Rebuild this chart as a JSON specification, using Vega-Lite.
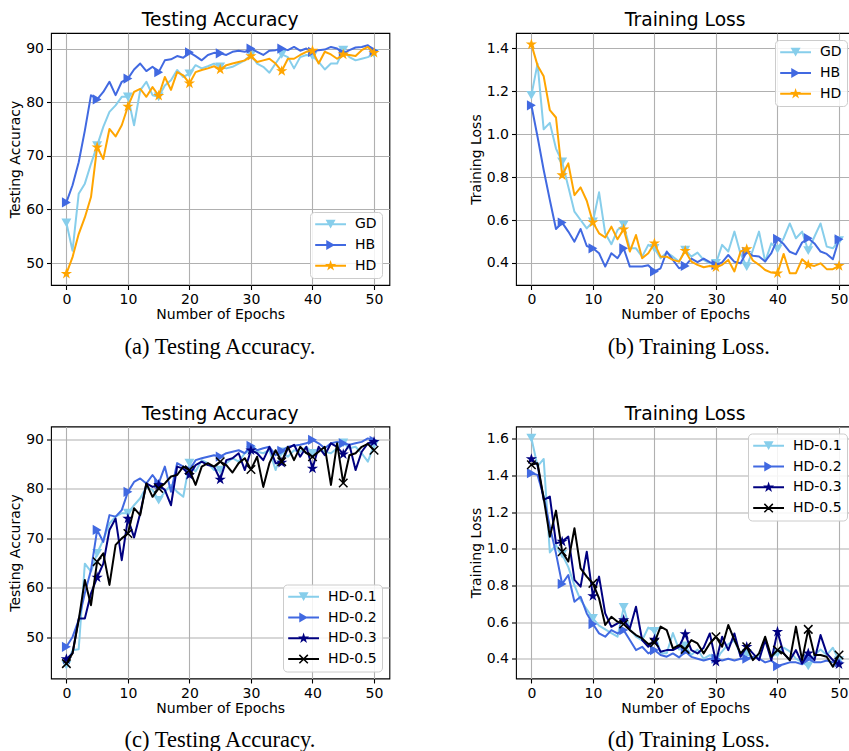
{
"$schema": "https://vega.github.io/schema/vega-lite/v6.json",
"padding": {"left": 8, "top": 10, "right": -5, "bottom": 0},
"background": "white",
"config": {
  "font": "DejaVu Sans",
  "view": {"stroke": "black", "strokeWidth": 1.1},
  "axis": {"domain": false, "grid": true, "gridColor": "#b0b0b0", "gridWidth": 1.1, "tickColor": "black", "tickWidth": 1.1, "tickSize": 4.5, "labelFont": "DejaVu Sans", "labelFontSize": 14, "labelColor": "black", "labelPadding": 3, "labelFlush": false, "labelOverlap": false, "titleFont": "DejaVu Sans", "titleFontSize": 14, "titleFontWeight": "normal", "titleColor": "black", "titlePadding": 3},
  "axisX": {"titlePadding": 1},
  "title": {"font": "DejaVu Sans", "fontSize": 18.7, "fontWeight": "normal", "color": "black", "offset": 3},
  "legend": {"labelFont": "DejaVu Sans", "labelFontSize": 14, "labelColor": "black", "symbolSize": 196, "symbolOffset": 0, "symbolStrokeWidth": 0, "fillColor": "rgba(255,255,255,0.85)", "strokeColor": "#cccccc", "cornerRadius": 4, "padding": 5.2, "rowPadding": 6.8, "labelOffset": 25.8, "offset": 7},
  "line": {"strokeWidth": 2, "strokeJoin": "round"}
},
"datasets": {
"a": [
{"s":"GD","e":0,"v":57.5},{"s":"GD","e":1,"v":52.3},{"s":"GD","e":2,"v":62.9},{"s":"GD","e":3,"v":64.8},{"s":"GD","e":4,"v":68.5},{"s":"GD","e":5,"v":71.9},{"s":"GD","e":6,"v":75.4},{"s":"GD","e":7,"v":78.2},{"s":"GD","e":8,"v":79.4},{"s":"GD","e":9,"v":81.0},
{"s":"GD","e":10,"v":81.0},{"s":"GD","e":11,"v":75.7},{"s":"GD","e":12,"v":82.2},{"s":"GD","e":13,"v":83.8},{"s":"GD","e":14,"v":81.3},{"s":"GD","e":15,"v":81.0},{"s":"GD","e":16,"v":83.1},{"s":"GD","e":17,"v":84.1},{"s":"GD","e":18,"v":86.0},{"s":"GD","e":19,"v":84.7},
{"s":"GD","e":20,"v":85.3},{"s":"GD","e":21,"v":86.9},{"s":"GD","e":22,"v":86.3},{"s":"GD","e":23,"v":86.7},{"s":"GD","e":24,"v":87.2},{"s":"GD","e":25,"v":86.6},{"s":"GD","e":26,"v":86.3},{"s":"GD","e":27,"v":86.6},{"s":"GD","e":28,"v":87.2},{"s":"GD","e":29,"v":87.8},
{"s":"GD","e":30,"v":88.8},{"s":"GD","e":31,"v":87.2},{"s":"GD","e":32,"v":86.6},{"s":"GD","e":33,"v":85.5},{"s":"GD","e":34,"v":87.2},{"s":"GD","e":35,"v":88.9},{"s":"GD","e":36,"v":88.4},{"s":"GD","e":37,"v":86.3},{"s":"GD","e":38,"v":88.4},{"s":"GD","e":39,"v":88.8},
{"s":"GD","e":40,"v":88.6},{"s":"GD","e":41,"v":87.5},{"s":"GD","e":42,"v":86.1},{"s":"GD","e":43,"v":87.2},{"s":"GD","e":44,"v":87.2},{"s":"GD","e":45,"v":89.7},{"s":"GD","e":46,"v":88.4},{"s":"GD","e":47,"v":87.8},{"s":"GD","e":48,"v":88.1},{"s":"GD","e":49,"v":88.4},{"s":"GD","e":50,"v":89.1},
{"s":"HB","e":0,"v":61.3},{"s":"HB","e":1,"v":64.5},{"s":"HB","e":2,"v":68.8},{"s":"HB","e":3,"v":74.7},{"s":"HB","e":4,"v":81.3},{"s":"HB","e":5,"v":80.5},{"s":"HB","e":6,"v":81.9},{"s":"HB","e":7,"v":83.8},{"s":"HB","e":8,"v":81.3},{"s":"HB","e":9,"v":83.8},
{"s":"HB","e":10,"v":84.4},{"s":"HB","e":11,"v":86.1},{"s":"HB","e":12,"v":87.2},{"s":"HB","e":13,"v":85.8},{"s":"HB","e":14,"v":86.6},{"s":"HB","e":15,"v":85.6},{"s":"HB","e":16,"v":87.8},{"s":"HB","e":17,"v":88.0},{"s":"HB","e":18,"v":88.6},{"s":"HB","e":19,"v":88.3},
{"s":"HB","e":20,"v":89.3},{"s":"HB","e":21,"v":88.6},{"s":"HB","e":22,"v":87.8},{"s":"HB","e":23,"v":88.8},{"s":"HB","e":24,"v":89.2},{"s":"HB","e":25,"v":89.1},{"s":"HB","e":26,"v":88.8},{"s":"HB","e":27,"v":89.4},{"s":"HB","e":28,"v":89.6},{"s":"HB","e":29,"v":89.4},
{"s":"HB","e":30,"v":90.0},{"s":"HB","e":31,"v":89.4},{"s":"HB","e":32,"v":88.8},{"s":"HB","e":33,"v":89.6},{"s":"HB","e":34,"v":89.7},{"s":"HB","e":35,"v":90.0},{"s":"HB","e":36,"v":89.7},{"s":"HB","e":37,"v":90.3},{"s":"HB","e":38,"v":89.6},{"s":"HB","e":39,"v":90.0},
{"s":"HB","e":40,"v":89.4},{"s":"HB","e":41,"v":89.7},{"s":"HB","e":42,"v":89.8},{"s":"HB","e":43,"v":90.3},{"s":"HB","e":44,"v":90.0},{"s":"HB","e":45,"v":89.1},{"s":"HB","e":46,"v":89.7},{"s":"HB","e":47,"v":90.2},{"s":"HB","e":48,"v":90.3},{"s":"HB","e":49,"v":90.6},{"s":"HB","e":50,"v":89.6},
{"s":"HD","e":0,"v":48.0},{"s":"HD","e":1,"v":51.1},{"s":"HD","e":2,"v":55.4},{"s":"HD","e":3,"v":58.5},{"s":"HD","e":4,"v":62.3},{"s":"HD","e":5,"v":71.6},{"s":"HD","e":6,"v":69.4},{"s":"HD","e":7,"v":75.0},{"s":"HD","e":8,"v":73.6},{"s":"HD","e":9,"v":75.7},
{"s":"HD","e":10,"v":79.2},{"s":"HD","e":11,"v":81.9},{"s":"HD","e":12,"v":82.5},{"s":"HD","e":13,"v":81.0},{"s":"HD","e":14,"v":82.8},{"s":"HD","e":15,"v":81.2},{"s":"HD","e":16,"v":84.7},{"s":"HD","e":17,"v":82.3},{"s":"HD","e":18,"v":85.6},{"s":"HD","e":19,"v":85.0},
{"s":"HD","e":20,"v":83.5},{"s":"HD","e":21,"v":85.6},{"s":"HD","e":22,"v":86.0},{"s":"HD","e":23,"v":86.3},{"s":"HD","e":24,"v":86.7},{"s":"HD","e":25,"v":86.1},{"s":"HD","e":26,"v":86.9},{"s":"HD","e":27,"v":87.2},{"s":"HD","e":28,"v":87.5},{"s":"HD","e":29,"v":87.8},
{"s":"HD","e":30,"v":88.6},{"s":"HD","e":31,"v":87.5},{"s":"HD","e":32,"v":87.8},{"s":"HD","e":33,"v":88.1},{"s":"HD","e":34,"v":87.2},{"s":"HD","e":35,"v":85.8},{"s":"HD","e":36,"v":88.1},{"s":"HD","e":37,"v":88.1},{"s":"HD","e":38,"v":88.8},{"s":"HD","e":39,"v":89.4},
{"s":"HD","e":40,"v":89.6},{"s":"HD","e":41,"v":87.2},{"s":"HD","e":42,"v":89.4},{"s":"HD","e":43,"v":88.9},{"s":"HD","e":44,"v":88.1},{"s":"HD","e":45,"v":88.9},{"s":"HD","e":46,"v":88.8},{"s":"HD","e":47,"v":88.6},{"s":"HD","e":48,"v":89.7},{"s":"HD","e":49,"v":90.3},{"s":"HD","e":50,"v":89.2}
],
"b": [
{"s":"GD","e":0,"v":1.181},{"s":"GD","e":1,"v":1.329},{"s":"GD","e":2,"v":1.023},{"s":"GD","e":3,"v":1.053},{"s":"GD","e":4,"v":0.933},{"s":"GD","e":5,"v":0.871},{"s":"GD","e":6,"v":0.755},{"s":"GD","e":7,"v":0.639},{"s":"GD","e":8,"v":0.600},{"s":"GD","e":9,"v":0.561},
{"s":"GD","e":10,"v":0.592},{"s":"GD","e":11,"v":0.729},{"s":"GD","e":12,"v":0.538},{"s":"GD","e":13,"v":0.487},{"s":"GD","e":14,"v":0.553},{"s":"GD","e":15,"v":0.577},{"s":"GD","e":16,"v":0.468},{"s":"GD","e":17,"v":0.468},{"s":"GD","e":18,"v":0.429},{"s":"GD","e":19,"v":0.484},
{"s":"GD","e":20,"v":0.468},{"s":"GD","e":21,"v":0.422},{"s":"GD","e":22,"v":0.448},{"s":"GD","e":23,"v":0.429},{"s":"GD","e":24,"v":0.406},{"s":"GD","e":25,"v":0.460},{"s":"GD","e":26,"v":0.429},{"s":"GD","e":27,"v":0.448},{"s":"GD","e":28,"v":0.414},{"s":"GD","e":29,"v":0.398},
{"s":"GD","e":30,"v":0.398},{"s":"GD","e":31,"v":0.484},{"s":"GD","e":32,"v":0.453},{"s":"GD","e":33,"v":0.546},{"s":"GD","e":34,"v":0.442},{"s":"GD","e":35,"v":0.383},{"s":"GD","e":36,"v":0.460},{"s":"GD","e":37,"v":0.546},{"s":"GD","e":38,"v":0.406},{"s":"GD","e":39,"v":0.491},
{"s":"GD","e":40,"v":0.464},{"s":"GD","e":41,"v":0.515},{"s":"GD","e":42,"v":0.584},{"s":"GD","e":43,"v":0.515},{"s":"GD","e":44,"v":0.546},{"s":"GD","e":45,"v":0.457},{"s":"GD","e":46,"v":0.522},{"s":"GD","e":47,"v":0.584},{"s":"GD","e":48,"v":0.476},{"s":"GD","e":49,"v":0.468},{"s":"GD","e":50,"v":0.504},
{"s":"HB","e":0,"v":1.135},{"s":"HB","e":1,"v":0.988},{"s":"HB","e":2,"v":0.833},{"s":"HB","e":3,"v":0.693},{"s":"HB","e":4,"v":0.558},{"s":"HB","e":5,"v":0.588},{"s":"HB","e":6,"v":0.546},{"s":"HB","e":7,"v":0.499},{"s":"HB","e":8,"v":0.558},{"s":"HB","e":9,"v":0.479},
{"s":"HB","e":10,"v":0.468},{"s":"HB","e":11,"v":0.445},{"s":"HB","e":12,"v":0.383},{"s":"HB","e":13,"v":0.445},{"s":"HB","e":14,"v":0.422},{"s":"HB","e":15,"v":0.468},{"s":"HB","e":16,"v":0.383},{"s":"HB","e":17,"v":0.383},{"s":"HB","e":18,"v":0.383},{"s":"HB","e":19,"v":0.389},
{"s":"HB","e":20,"v":0.360},{"s":"HB","e":21,"v":0.375},{"s":"HB","e":22,"v":0.453},{"s":"HB","e":23,"v":0.414},{"s":"HB","e":24,"v":0.375},{"s":"HB","e":25,"v":0.386},{"s":"HB","e":26,"v":0.420},{"s":"HB","e":27,"v":0.404},{"s":"HB","e":28,"v":0.420},{"s":"HB","e":29,"v":0.404},
{"s":"HB","e":30,"v":0.391},{"s":"HB","e":31,"v":0.402},{"s":"HB","e":32,"v":0.437},{"s":"HB","e":33,"v":0.405},{"s":"HB","e":34,"v":0.398},{"s":"HB","e":35,"v":0.452},{"s":"HB","e":36,"v":0.433},{"s":"HB","e":37,"v":0.430},{"s":"HB","e":38,"v":0.407},{"s":"HB","e":39,"v":0.446},
{"s":"HB","e":40,"v":0.512},{"s":"HB","e":41,"v":0.488},{"s":"HB","e":42,"v":0.452},{"s":"HB","e":43,"v":0.440},{"s":"HB","e":44,"v":0.495},{"s":"HB","e":45,"v":0.515},{"s":"HB","e":46,"v":0.491},{"s":"HB","e":47,"v":0.453},{"s":"HB","e":48,"v":0.442},{"s":"HB","e":49,"v":0.417},{"s":"HB","e":50,"v":0.510},
{"s":"HD","e":0,"v":1.419},{"s":"HD","e":1,"v":1.321},{"s":"HD","e":2,"v":1.270},{"s":"HD","e":3,"v":1.112},{"s":"HD","e":4,"v":1.078},{"s":"HD","e":5,"v":0.809},{"s":"HD","e":6,"v":0.864},{"s":"HD","e":7,"v":0.716},{"s":"HD","e":8,"v":0.752},{"s":"HD","e":9,"v":0.690},
{"s":"HD","e":10,"v":0.589},{"s":"HD","e":11,"v":0.538},{"s":"HD","e":12,"v":0.519},{"s":"HD","e":13,"v":0.569},{"s":"HD","e":14,"v":0.510},{"s":"HD","e":15,"v":0.557},{"s":"HD","e":16,"v":0.453},{"s":"HD","e":17,"v":0.530},{"s":"HD","e":18,"v":0.422},{"s":"HD","e":19,"v":0.445},
{"s":"HD","e":20,"v":0.491},{"s":"HD","e":21,"v":0.429},{"s":"HD","e":22,"v":0.429},{"s":"HD","e":23,"v":0.414},{"s":"HD","e":24,"v":0.406},{"s":"HD","e":25,"v":0.456},{"s":"HD","e":26,"v":0.406},{"s":"HD","e":27,"v":0.391},{"s":"HD","e":28,"v":0.380},{"s":"HD","e":29,"v":0.386},
{"s":"HD","e":30,"v":0.380},{"s":"HD","e":31,"v":0.391},{"s":"HD","e":32,"v":0.414},{"s":"HD","e":33,"v":0.360},{"s":"HD","e":34,"v":0.453},{"s":"HD","e":35,"v":0.464},{"s":"HD","e":36,"v":0.411},{"s":"HD","e":37,"v":0.391},{"s":"HD","e":38,"v":0.367},{"s":"HD","e":39,"v":0.355},
{"s":"HD","e":40,"v":0.352},{"s":"HD","e":41,"v":0.442},{"s":"HD","e":42,"v":0.352},{"s":"HD","e":43,"v":0.352},{"s":"HD","e":44,"v":0.417},{"s":"HD","e":45,"v":0.391},{"s":"HD","e":46,"v":0.386},{"s":"HD","e":47,"v":0.398},{"s":"HD","e":48,"v":0.371},{"s":"HD","e":49,"v":0.371},{"s":"HD","e":50,"v":0.386}
],
"c": [
{"s":"HD-0.1","e":0,"v":44.4},{"s":"HD-0.1","e":1,"v":47.4},{"s":"HD-0.1","e":2,"v":47.6},{"s":"HD-0.1","e":3,"v":64.9},{"s":"HD-0.1","e":4,"v":63.3},{"s":"HD-0.1","e":5,"v":67.0},{"s":"HD-0.1","e":6,"v":69.7},{"s":"HD-0.1","e":7,"v":73.0},{"s":"HD-0.1","e":8,"v":74.4},{"s":"HD-0.1","e":9,"v":75.1},
{"s":"HD-0.1","e":10,"v":75.1},{"s":"HD-0.1","e":11,"v":76.7},{"s":"HD-0.1","e":12,"v":78.1},{"s":"HD-0.1","e":13,"v":80.4},{"s":"HD-0.1","e":14,"v":79.8},{"s":"HD-0.1","e":15,"v":77.7},{"s":"HD-0.1","e":16,"v":79.4},{"s":"HD-0.1","e":17,"v":80.8},{"s":"HD-0.1","e":18,"v":79.4},{"s":"HD-0.1","e":19,"v":78.4},
{"s":"HD-0.1","e":20,"v":85.2},{"s":"HD-0.1","e":21,"v":83.5},{"s":"HD-0.1","e":22,"v":85.8},{"s":"HD-0.1","e":23,"v":85.2},{"s":"HD-0.1","e":24,"v":83.8},{"s":"HD-0.1","e":25,"v":83.8},{"s":"HD-0.1","e":26,"v":85.2},{"s":"HD-0.1","e":27,"v":86.2},{"s":"HD-0.1","e":28,"v":85.5},{"s":"HD-0.1","e":29,"v":87.2},
{"s":"HD-0.1","e":30,"v":87.8},{"s":"HD-0.1","e":31,"v":87.5},{"s":"HD-0.1","e":32,"v":87.2},{"s":"HD-0.1","e":33,"v":87.8},{"s":"HD-0.1","e":34,"v":83.8},{"s":"HD-0.1","e":35,"v":87.5},{"s":"HD-0.1","e":36,"v":86.5},{"s":"HD-0.1","e":37,"v":87.8},{"s":"HD-0.1","e":38,"v":87.5},{"s":"HD-0.1","e":39,"v":88.5},
{"s":"HD-0.1","e":40,"v":87.2},{"s":"HD-0.1","e":41,"v":88.2},{"s":"HD-0.1","e":42,"v":87.5},{"s":"HD-0.1","e":43,"v":87.2},{"s":"HD-0.1","e":44,"v":88.2},{"s":"HD-0.1","e":45,"v":89.3},{"s":"HD-0.1","e":46,"v":88.2},{"s":"HD-0.1","e":47,"v":88.5},{"s":"HD-0.1","e":48,"v":87.2},{"s":"HD-0.1","e":49,"v":85.5},{"s":"HD-0.1","e":50,"v":88.9},
{"s":"HD-0.2","e":0,"v":48.1},{"s":"HD-0.2","e":1,"v":50.1},{"s":"HD-0.2","e":2,"v":53.5},{"s":"HD-0.2","e":3,"v":58.9},{"s":"HD-0.2","e":4,"v":63.6},{"s":"HD-0.2","e":5,"v":71.7},{"s":"HD-0.2","e":6,"v":69.3},{"s":"HD-0.2","e":7,"v":74.7},{"s":"HD-0.2","e":8,"v":74.4},{"s":"HD-0.2","e":9,"v":75.7},
{"s":"HD-0.2","e":10,"v":79.4},{"s":"HD-0.2","e":11,"v":81.4},{"s":"HD-0.2","e":12,"v":82.1},{"s":"HD-0.2","e":13,"v":81.1},{"s":"HD-0.2","e":14,"v":82.8},{"s":"HD-0.2","e":15,"v":81.1},{"s":"HD-0.2","e":16,"v":84.5},{"s":"HD-0.2","e":17,"v":79.4},{"s":"HD-0.2","e":18,"v":85.2},{"s":"HD-0.2","e":19,"v":84.5},
{"s":"HD-0.2","e":20,"v":83.8},{"s":"HD-0.2","e":21,"v":85.8},{"s":"HD-0.2","e":22,"v":86.2},{"s":"HD-0.2","e":23,"v":86.5},{"s":"HD-0.2","e":24,"v":86.8},{"s":"HD-0.2","e":25,"v":86.5},{"s":"HD-0.2","e":26,"v":87.2},{"s":"HD-0.2","e":27,"v":87.5},{"s":"HD-0.2","e":28,"v":87.8},{"s":"HD-0.2","e":29,"v":87.2},
{"s":"HD-0.2","e":30,"v":88.7},{"s":"HD-0.2","e":31,"v":87.8},{"s":"HD-0.2","e":32,"v":88.2},{"s":"HD-0.2","e":33,"v":88.5},{"s":"HD-0.2","e":34,"v":86.8},{"s":"HD-0.2","e":35,"v":87.7},{"s":"HD-0.2","e":36,"v":88.5},{"s":"HD-0.2","e":37,"v":88.7},{"s":"HD-0.2","e":38,"v":88.9},{"s":"HD-0.2","e":39,"v":89.2},
{"s":"HD-0.2","e":40,"v":89.9},{"s":"HD-0.2","e":41,"v":89.2},{"s":"HD-0.2","e":42,"v":88.2},{"s":"HD-0.2","e":43,"v":89.2},{"s":"HD-0.2","e":44,"v":89.5},{"s":"HD-0.2","e":45,"v":89.2},{"s":"HD-0.2","e":46,"v":88.9},{"s":"HD-0.2","e":47,"v":89.2},{"s":"HD-0.2","e":48,"v":89.5},{"s":"HD-0.2","e":49,"v":90.2},{"s":"HD-0.2","e":50,"v":89.7},
{"s":"HD-0.3","e":0,"v":45.6},{"s":"HD-0.3","e":1,"v":46.8},{"s":"HD-0.3","e":2,"v":53.8},{"s":"HD-0.3","e":3,"v":53.8},{"s":"HD-0.3","e":4,"v":58.9},{"s":"HD-0.3","e":5,"v":62.1},{"s":"HD-0.3","e":6,"v":64.9},{"s":"HD-0.3","e":7,"v":71.7},{"s":"HD-0.3","e":8,"v":74.0},{"s":"HD-0.3","e":9,"v":65.6},
{"s":"HD-0.3","e":10,"v":74.0},{"s":"HD-0.3","e":11,"v":70.2},{"s":"HD-0.3","e":12,"v":75.1},{"s":"HD-0.3","e":13,"v":81.1},{"s":"HD-0.3","e":14,"v":80.4},{"s":"HD-0.3","e":15,"v":80.8},{"s":"HD-0.3","e":16,"v":79.8},{"s":"HD-0.3","e":17,"v":76.7},{"s":"HD-0.3","e":18,"v":84.5},{"s":"HD-0.3","e":19,"v":84.1},
{"s":"HD-0.3","e":20,"v":82.8},{"s":"HD-0.3","e":21,"v":84.8},{"s":"HD-0.3","e":22,"v":85.5},{"s":"HD-0.3","e":23,"v":84.8},{"s":"HD-0.3","e":24,"v":84.5},{"s":"HD-0.3","e":25,"v":81.9},{"s":"HD-0.3","e":26,"v":85.8},{"s":"HD-0.3","e":27,"v":86.2},{"s":"HD-0.3","e":28,"v":87.2},{"s":"HD-0.3","e":29,"v":83.8},
{"s":"HD-0.3","e":30,"v":87.8},{"s":"HD-0.3","e":31,"v":87.2},{"s":"HD-0.3","e":32,"v":85.8},{"s":"HD-0.3","e":33,"v":88.5},{"s":"HD-0.3","e":34,"v":85.2},{"s":"HD-0.3","e":35,"v":85.3},{"s":"HD-0.3","e":36,"v":88.2},{"s":"HD-0.3","e":37,"v":88.9},{"s":"HD-0.3","e":38,"v":86.5},{"s":"HD-0.3","e":39,"v":88.5},
{"s":"HD-0.3","e":40,"v":84.1},{"s":"HD-0.3","e":41,"v":88.5},{"s":"HD-0.3","e":42,"v":86.8},{"s":"HD-0.3","e":43,"v":89.2},{"s":"HD-0.3","e":44,"v":88.5},{"s":"HD-0.3","e":45,"v":87.0},{"s":"HD-0.3","e":46,"v":88.9},{"s":"HD-0.3","e":47,"v":83.8},{"s":"HD-0.3","e":48,"v":87.5},{"s":"HD-0.3","e":49,"v":89.2},{"s":"HD-0.3","e":50,"v":89.5},
{"s":"HD-0.5","e":0,"v":44.7},{"s":"HD-0.5","e":1,"v":46.8},{"s":"HD-0.5","e":2,"v":53.5},{"s":"HD-0.5","e":3,"v":61.6},{"s":"HD-0.5","e":4,"v":56.5},{"s":"HD-0.5","e":5,"v":65.3},{"s":"HD-0.5","e":6,"v":67.0},{"s":"HD-0.5","e":7,"v":60.6},{"s":"HD-0.5","e":8,"v":68.7},{"s":"HD-0.5","e":9,"v":70.0},
{"s":"HD-0.5","e":10,"v":71.0},{"s":"HD-0.5","e":11,"v":76.1},{"s":"HD-0.5","e":12,"v":74.7},{"s":"HD-0.5","e":13,"v":81.1},{"s":"HD-0.5","e":14,"v":78.4},{"s":"HD-0.5","e":15,"v":80.1},{"s":"HD-0.5","e":16,"v":81.1},{"s":"HD-0.5","e":17,"v":82.5},{"s":"HD-0.5","e":18,"v":82.8},{"s":"HD-0.5","e":19,"v":84.5},
{"s":"HD-0.5","e":20,"v":83.8},{"s":"HD-0.5","e":21,"v":80.8},{"s":"HD-0.5","e":22,"v":84.5},{"s":"HD-0.5","e":23,"v":85.2},{"s":"HD-0.5","e":24,"v":84.5},{"s":"HD-0.5","e":25,"v":85.5},{"s":"HD-0.5","e":26,"v":84.8},{"s":"HD-0.5","e":27,"v":83.3},{"s":"HD-0.5","e":28,"v":85.2},{"s":"HD-0.5","e":29,"v":86.2},
{"s":"HD-0.5","e":30,"v":83.9},{"s":"HD-0.5","e":31,"v":86.5},{"s":"HD-0.5","e":32,"v":80.4},{"s":"HD-0.5","e":33,"v":85.2},{"s":"HD-0.5","e":34,"v":87.8},{"s":"HD-0.5","e":35,"v":85.5},{"s":"HD-0.5","e":36,"v":88.5},{"s":"HD-0.5","e":37,"v":85.8},{"s":"HD-0.5","e":38,"v":88.5},{"s":"HD-0.5","e":39,"v":87.2},
{"s":"HD-0.5","e":40,"v":86.5},{"s":"HD-0.5","e":41,"v":87.5},{"s":"HD-0.5","e":42,"v":88.5},{"s":"HD-0.5","e":43,"v":80.8},{"s":"HD-0.5","e":44,"v":89.2},{"s":"HD-0.5","e":45,"v":81.2},{"s":"HD-0.5","e":46,"v":86.8},{"s":"HD-0.5","e":47,"v":87.2},{"s":"HD-0.5","e":48,"v":88.5},{"s":"HD-0.5","e":49,"v":89.1},{"s":"HD-0.5","e":50,"v":87.8}
],
"d": [
{"s":"HD-0.1","e":0,"v":1.604},{"s":"HD-0.1","e":1,"v":1.45},{"s":"HD-0.1","e":2,"v":1.49},{"s":"HD-0.1","e":3,"v":0.98},{"s":"HD-0.1","e":4,"v":1.02},{"s":"HD-0.1","e":5,"v":0.97},{"s":"HD-0.1","e":6,"v":0.90},{"s":"HD-0.1","e":7,"v":0.80},{"s":"HD-0.1","e":8,"v":0.72},{"s":"HD-0.1","e":9,"v":0.67},
{"s":"HD-0.1","e":10,"v":0.62},{"s":"HD-0.1","e":11,"v":0.58},{"s":"HD-0.1","e":12,"v":0.56},{"s":"HD-0.1","e":13,"v":0.54},{"s":"HD-0.1","e":14,"v":0.52},{"s":"HD-0.1","e":15,"v":0.68},{"s":"HD-0.1","e":16,"v":0.56},{"s":"HD-0.1","e":17,"v":0.52},{"s":"HD-0.1","e":18,"v":0.50},{"s":"HD-0.1","e":19,"v":0.57},
{"s":"HD-0.1","e":20,"v":0.55},{"s":"HD-0.1","e":21,"v":0.43},{"s":"HD-0.1","e":22,"v":0.43},{"s":"HD-0.1","e":23,"v":0.54},{"s":"HD-0.1","e":24,"v":0.45},{"s":"HD-0.1","e":25,"v":0.47},{"s":"HD-0.1","e":26,"v":0.42},{"s":"HD-0.1","e":27,"v":0.45},{"s":"HD-0.1","e":28,"v":0.40},{"s":"HD-0.1","e":29,"v":0.42},
{"s":"HD-0.1","e":30,"v":0.40},{"s":"HD-0.1","e":31,"v":0.44},{"s":"HD-0.1","e":32,"v":0.48},{"s":"HD-0.1","e":33,"v":0.50},{"s":"HD-0.1","e":34,"v":0.42},{"s":"HD-0.1","e":35,"v":0.43},{"s":"HD-0.1","e":36,"v":0.40},{"s":"HD-0.1","e":37,"v":0.42},{"s":"HD-0.1","e":38,"v":0.50},{"s":"HD-0.1","e":39,"v":0.41},
{"s":"HD-0.1","e":40,"v":0.43},{"s":"HD-0.1","e":41,"v":0.46},{"s":"HD-0.1","e":42,"v":0.44},{"s":"HD-0.1","e":43,"v":0.40},{"s":"HD-0.1","e":44,"v":0.38},{"s":"HD-0.1","e":45,"v":0.36},{"s":"HD-0.1","e":46,"v":0.42},{"s":"HD-0.1","e":47,"v":0.45},{"s":"HD-0.1","e":48,"v":0.42},{"s":"HD-0.1","e":49,"v":0.46},{"s":"HD-0.1","e":50,"v":0.39},
{"s":"HD-0.2","e":0,"v":1.412},{"s":"HD-0.2","e":1,"v":1.403},{"s":"HD-0.2","e":2,"v":1.285},{"s":"HD-0.2","e":3,"v":1.121},{"s":"HD-0.2","e":4,"v":0.975},{"s":"HD-0.2","e":5,"v":0.808},{"s":"HD-0.2","e":6,"v":0.857},{"s":"HD-0.2","e":7,"v":0.711},{"s":"HD-0.2","e":8,"v":0.738},{"s":"HD-0.2","e":9,"v":0.647},
{"s":"HD-0.2","e":10,"v":0.589},{"s":"HD-0.2","e":11,"v":0.538},{"s":"HD-0.2","e":12,"v":0.520},{"s":"HD-0.2","e":13,"v":0.556},{"s":"HD-0.2","e":14,"v":0.538},{"s":"HD-0.2","e":15,"v":0.556},{"s":"HD-0.2","e":16,"v":0.502},{"s":"HD-0.2","e":17,"v":0.447},{"s":"HD-0.2","e":18,"v":0.465},{"s":"HD-0.2","e":19,"v":0.429},
{"s":"HD-0.2","e":20,"v":0.447},{"s":"HD-0.2","e":21,"v":0.420},{"s":"HD-0.2","e":22,"v":0.411},{"s":"HD-0.2","e":23,"v":0.429},{"s":"HD-0.2","e":24,"v":0.407},{"s":"HD-0.2","e":25,"v":0.44},{"s":"HD-0.2","e":26,"v":0.41},{"s":"HD-0.2","e":27,"v":0.40},{"s":"HD-0.2","e":28,"v":0.39},{"s":"HD-0.2","e":29,"v":0.40},
{"s":"HD-0.2","e":30,"v":0.40},{"s":"HD-0.2","e":31,"v":0.39},{"s":"HD-0.2","e":32,"v":0.40},{"s":"HD-0.2","e":33,"v":0.39},{"s":"HD-0.2","e":34,"v":0.40},{"s":"HD-0.2","e":35,"v":0.40},{"s":"HD-0.2","e":36,"v":0.41},{"s":"HD-0.2","e":37,"v":0.40},{"s":"HD-0.2","e":38,"v":0.38},{"s":"HD-0.2","e":39,"v":0.39},
{"s":"HD-0.2","e":40,"v":0.36},{"s":"HD-0.2","e":41,"v":0.37},{"s":"HD-0.2","e":42,"v":0.38},{"s":"HD-0.2","e":43,"v":0.38},{"s":"HD-0.2","e":44,"v":0.37},{"s":"HD-0.2","e":45,"v":0.40},{"s":"HD-0.2","e":46,"v":0.38},{"s":"HD-0.2","e":47,"v":0.38},{"s":"HD-0.2","e":48,"v":0.39},{"s":"HD-0.2","e":49,"v":0.38},{"s":"HD-0.2","e":50,"v":0.38},
{"s":"HD-0.3","e":0,"v":1.489},{"s":"HD-0.3","e":1,"v":1.458},{"s":"HD-0.3","e":2,"v":1.267},{"s":"HD-0.3","e":3,"v":1.285},{"s":"HD-0.3","e":4,"v":1.030},{"s":"HD-0.3","e":5,"v":1.039},{"s":"HD-0.3","e":6,"v":1.066},{"s":"HD-0.3","e":7,"v":0.830},{"s":"HD-0.3","e":8,"v":0.793},{"s":"HD-0.3","e":9,"v":0.984},
{"s":"HD-0.3","e":10,"v":0.742},{"s":"HD-0.3","e":11,"v":0.848},{"s":"HD-0.3","e":12,"v":0.647},{"s":"HD-0.3","e":13,"v":0.574},{"s":"HD-0.3","e":14,"v":0.593},{"s":"HD-0.3","e":15,"v":0.611},{"s":"HD-0.3","e":16,"v":0.565},{"s":"HD-0.3","e":17,"v":0.684},{"s":"HD-0.3","e":18,"v":0.502},{"s":"HD-0.3","e":19,"v":0.465},
{"s":"HD-0.3","e":20,"v":0.505},{"s":"HD-0.3","e":21,"v":0.438},{"s":"HD-0.3","e":22,"v":0.447},{"s":"HD-0.3","e":23,"v":0.447},{"s":"HD-0.3","e":24,"v":0.465},{"s":"HD-0.3","e":25,"v":0.534},{"s":"HD-0.3","e":26,"v":0.447},{"s":"HD-0.3","e":27,"v":0.429},{"s":"HD-0.3","e":28,"v":0.46},{"s":"HD-0.3","e":29,"v":0.538},
{"s":"HD-0.3","e":30,"v":0.383},{"s":"HD-0.3","e":31,"v":0.520},{"s":"HD-0.3","e":32,"v":0.447},{"s":"HD-0.3","e":33,"v":0.538},{"s":"HD-0.3","e":34,"v":0.411},{"s":"HD-0.3","e":35,"v":0.465},{"s":"HD-0.3","e":36,"v":0.429},{"s":"HD-0.3","e":37,"v":0.392},{"s":"HD-0.3","e":38,"v":0.502},{"s":"HD-0.3","e":39,"v":0.392},
{"s":"HD-0.3","e":40,"v":0.547},{"s":"HD-0.3","e":41,"v":0.429},{"s":"HD-0.3","e":42,"v":0.392},{"s":"HD-0.3","e":43,"v":0.447},{"s":"HD-0.3","e":44,"v":0.374},{"s":"HD-0.3","e":45,"v":0.429},{"s":"HD-0.3","e":46,"v":0.392},{"s":"HD-0.3","e":47,"v":0.529},{"s":"HD-0.3","e":48,"v":0.429},{"s":"HD-0.3","e":49,"v":0.392},{"s":"HD-0.3","e":50,"v":0.370},
{"s":"HD-0.5","e":0,"v":1.458},{"s":"HD-0.5","e":1,"v":1.467},{"s":"HD-0.5","e":2,"v":1.276},{"s":"HD-0.5","e":3,"v":1.066},{"s":"HD-0.5","e":4,"v":1.208},{"s":"HD-0.5","e":5,"v":0.984},{"s":"HD-0.5","e":6,"v":0.930},{"s":"HD-0.5","e":7,"v":1.112},{"s":"HD-0.5","e":8,"v":0.893},{"s":"HD-0.5","e":9,"v":0.848},
{"s":"HD-0.5","e":10,"v":0.811},{"s":"HD-0.5","e":11,"v":0.729},{"s":"HD-0.5","e":12,"v":0.584},{"s":"HD-0.5","e":13,"v":0.629},{"s":"HD-0.5","e":14,"v":0.602},{"s":"HD-0.5","e":15,"v":0.589},{"s":"HD-0.5","e":16,"v":0.556},{"s":"HD-0.5","e":17,"v":0.529},{"s":"HD-0.5","e":18,"v":0.511},{"s":"HD-0.5","e":19,"v":0.480},
{"s":"HD-0.5","e":20,"v":0.487},{"s":"HD-0.5","e":21,"v":0.575},{"s":"HD-0.5","e":22,"v":0.556},{"s":"HD-0.5","e":23,"v":0.456},{"s":"HD-0.5","e":24,"v":0.474},{"s":"HD-0.5","e":25,"v":0.451},{"s":"HD-0.5","e":26,"v":0.502},{"s":"HD-0.5","e":27,"v":0.483},{"s":"HD-0.5","e":28,"v":0.429},{"s":"HD-0.5","e":29,"v":0.483},
{"s":"HD-0.5","e":30,"v":0.520},{"s":"HD-0.5","e":31,"v":0.465},{"s":"HD-0.5","e":32,"v":0.584},{"s":"HD-0.5","e":33,"v":0.502},{"s":"HD-0.5","e":34,"v":0.429},{"s":"HD-0.5","e":35,"v":0.465},{"s":"HD-0.5","e":36,"v":0.392},{"s":"HD-0.5","e":37,"v":0.429},{"s":"HD-0.5","e":38,"v":0.520},{"s":"HD-0.5","e":39,"v":0.411},
{"s":"HD-0.5","e":40,"v":0.447},{"s":"HD-0.5","e":41,"v":0.429},{"s":"HD-0.5","e":42,"v":0.392},{"s":"HD-0.5","e":43,"v":0.575},{"s":"HD-0.5","e":44,"v":0.392},{"s":"HD-0.5","e":45,"v":0.560},{"s":"HD-0.5","e":46,"v":0.420},{"s":"HD-0.5","e":47,"v":0.420},{"s":"HD-0.5","e":48,"v":0.411},{"s":"HD-0.5","e":49,"v":0.356},{"s":"HD-0.5","e":50,"v":0.420}
]
},
"resolve": {"scale": {"color": "independent", "shape": "independent"}, "legend": {"color": "independent", "shape": "independent"}},
"vconcat": [
{"resolve": {"scale": {"color": "independent", "shape": "independent"}, "legend": {"color": "independent", "shape": "independent"}},
 "hconcat": [
 {"title": {"text": "(a) Testing Accuracy.", "orient": "bottom", "anchor": "middle", "font": "Liberation Serif", "fontSize": 22.5, "offset": 13.5, "dx": 21},
  "resolve": {"scale": {"color": "independent", "shape": "independent"}, "legend": {"color": "independent", "shape": "independent"}},
  "vconcat": [{
   "title": "Testing Accuracy", "width": 338.4, "height": 252, "data": {"name": "a"},
   "encoding": {
     "x": {"field": "e", "type": "quantitative", "scale": {"domain": [-2.5, 52.5], "nice": false, "zero": false}, "axis": {"values": [0,10,20,30,40,50], "title": "Number of Epochs"}},
     "y": {"field": "v", "type": "quantitative", "scale": {"domain": [45.9, 92.9], "nice": false, "zero": false}, "axis": {"values": [50,60,70,80,90], "title": "Testing Accuracy"}}
   },
   "layer": [
     {"transform": [{"filter": "datum.s=='GD'"}], "mark": {"type": "line", "color": "#87CEEB"}},
     {"transform": [{"filter": "datum.s=='GD' && datum.e%5==0"}], "mark": {"type": "point", "shape": "triangle-down", "size": 100, "filled": true, "color": "#87CEEB", "opacity": 1}},
     {"transform": [{"filter": "datum.s=='HB'"}], "mark": {"type": "line", "color": "#4169E1"}},
     {"transform": [{"filter": "datum.s=='HB' && datum.e%5==0"}], "mark": {"type": "point", "shape": "triangle-right", "size": 105, "filled": true, "color": "#4169E1", "opacity": 1}},
     {"transform": [{"filter": "datum.s=='HD'"}], "mark": {"type": "line", "color": "#FFA500"}},
     {"transform": [{"filter": "datum.s=='HD' && datum.e%5==0"}], "mark": {"type": "point", "shape": "M0,-1L0.225,-0.309L0.951,-0.309L0.363,0.118L0.588,0.809L0,0.382L-0.588,0.809L-0.363,0.118L-0.951,-0.309L-0.225,-0.309Z", "size": 140, "filled": true, "color": "#FFA500", "opacity": 1}},
     {"transform": [{"filter": "false"}], "mark": {"type": "point", "filled": true, "opacity": 1, "size": 196},
      "encoding": {
        "color": {"field": "s", "type": "nominal", "scale": {"domain": ["GD","HB","HD"], "range": ["#87CEEB","#4169E1","#FFA500"]}, "legend": {"title": null, "orient": "bottom-right"}},
        "shape": {"field": "s", "type": "nominal", "scale": {"domain": ["GD","HB","HD"], "range": ["M-1,-0.143L3.4,-0.143L3.4,0.143L-1,0.143ZM1.2,0.619L0.486,-0.619L1.914,-0.619Z", "M-1,-0.143L3.4,-0.143L3.4,0.143L-1,0.143ZM1.819,0L0.581,0.714L0.581,-0.714Z", "M-1,-0.143L3.4,-0.143L3.4,0.143L-1,0.143ZM1.2,-0.829L1.387,-0.256L1.988,-0.256L1.501,0.098L1.687,0.671L1.2,0.317L0.713,0.671L0.899,0.098L0.412,-0.256L1.013,-0.256Z"]}, "legend": {"title": null, "orient": "bottom-right"}}
      }}
   ]
  }]
 },
 {"title": {"text": "(b) Training Loss.", "orient": "bottom", "anchor": "middle", "font": "Liberation Serif", "fontSize": 22.5, "offset": 13.5, "dx": 27},
  "resolve": {"scale": {"color": "independent", "shape": "independent"}, "legend": {"color": "independent", "shape": "independent"}},
  "vconcat": [{
   "title": "Training Loss", "width": 338.4, "height": 252, "data": {"name": "b"},
   "encoding": {
     "x": {"field": "e", "type": "quantitative", "scale": {"domain": [-2.5, 52.5], "nice": false, "zero": false}, "axis": {"values": [0,10,20,30,40,50], "title": "Number of Epochs"}},
     "y": {"field": "v", "type": "quantitative", "scale": {"domain": [0.297, 1.472], "nice": false, "zero": false}, "axis": {"values": [0.4,0.6,0.8,1.0,1.2,1.4], "format": ".1f", "title": "Training Loss"}}
   },
   "layer": [
     {"transform": [{"filter": "datum.s=='GD'"}], "mark": {"type": "line", "color": "#87CEEB"}},
     {"transform": [{"filter": "datum.s=='GD' && datum.e%5==0"}], "mark": {"type": "point", "shape": "triangle-down", "size": 100, "filled": true, "color": "#87CEEB", "opacity": 1}},
     {"transform": [{"filter": "datum.s=='HB'"}], "mark": {"type": "line", "color": "#4169E1"}},
     {"transform": [{"filter": "datum.s=='HB' && datum.e%5==0"}], "mark": {"type": "point", "shape": "triangle-right", "size": 105, "filled": true, "color": "#4169E1", "opacity": 1}},
     {"transform": [{"filter": "datum.s=='HD'"}], "mark": {"type": "line", "color": "#FFA500"}},
     {"transform": [{"filter": "datum.s=='HD' && datum.e%5==0"}], "mark": {"type": "point", "shape": "M0,-1L0.225,-0.309L0.951,-0.309L0.363,0.118L0.588,0.809L0,0.382L-0.588,0.809L-0.363,0.118L-0.951,-0.309L-0.225,-0.309Z", "size": 140, "filled": true, "color": "#FFA500", "opacity": 1}},
     {"transform": [{"filter": "false"}], "mark": {"type": "point", "filled": true, "opacity": 1, "size": 196},
      "encoding": {
        "color": {"field": "s", "type": "nominal", "scale": {"domain": ["GD","HB","HD"], "range": ["#87CEEB","#4169E1","#FFA500"]}, "legend": {"title": null, "orient": "top-right"}},
        "shape": {"field": "s", "type": "nominal", "scale": {"domain": ["GD","HB","HD"], "range": ["M-1,-0.143L3.4,-0.143L3.4,0.143L-1,0.143ZM1.2,0.619L0.486,-0.619L1.914,-0.619Z", "M-1,-0.143L3.4,-0.143L3.4,0.143L-1,0.143ZM1.819,0L0.581,0.714L0.581,-0.714Z", "M-1,-0.143L3.4,-0.143L3.4,0.143L-1,0.143ZM1.2,-0.829L1.387,-0.256L1.988,-0.256L1.501,0.098L1.687,0.671L1.2,0.317L0.713,0.671L0.899,0.098L0.412,-0.256L1.013,-0.256Z"]}, "legend": {"title": null, "orient": "top-right"}}
      }}
   ]
  }]
 }
], "spacing": 78},
{"resolve": {"scale": {"color": "independent", "shape": "independent"}, "legend": {"color": "independent", "shape": "independent"}},
 "hconcat": [
 {"title": {"text": "(c) Testing Accuracy.", "orient": "bottom", "anchor": "middle", "font": "Liberation Serif", "fontSize": 22.5, "offset": 13.5, "dx": 21},
  "resolve": {"scale": {"color": "independent", "shape": "independent"}, "legend": {"color": "independent", "shape": "independent"}},
  "vconcat": [{
   "title": "Testing Accuracy", "width": 338.4, "height": 252, "data": {"name": "c"},
   "encoding": {
     "x": {"field": "e", "type": "quantitative", "scale": {"domain": [-2.5, 52.5], "nice": false, "zero": false}, "axis": {"values": [0,10,20,30,40,50], "title": "Number of Epochs"}},
     "y": {"field": "v", "type": "quantitative", "scale": {"domain": [41.7, 92.6], "nice": false, "zero": false}, "axis": {"values": [50,60,70,80,90], "title": "Testing Accuracy"}}
   },
   "layer": [
     {"transform": [{"filter": "datum.s=='HD-0.1'"}], "mark": {"type": "line", "color": "#87CEEB"}},
     {"transform": [{"filter": "datum.s=='HD-0.1' && datum.e%5==0"}], "mark": {"type": "point", "shape": "triangle-down", "size": 100, "filled": true, "color": "#87CEEB", "opacity": 1}},
     {"transform": [{"filter": "datum.s=='HD-0.2'"}], "mark": {"type": "line", "color": "#4169E1"}},
     {"transform": [{"filter": "datum.s=='HD-0.2' && datum.e%5==0"}], "mark": {"type": "point", "shape": "triangle-right", "size": 105, "filled": true, "color": "#4169E1", "opacity": 1}},
     {"transform": [{"filter": "datum.s=='HD-0.3'"}], "mark": {"type": "line", "color": "#000080"}},
     {"transform": [{"filter": "datum.s=='HD-0.3' && datum.e%5==0"}], "mark": {"type": "point", "shape": "M0,-1L0.225,-0.309L0.951,-0.309L0.363,0.118L0.588,0.809L0,0.382L-0.588,0.809L-0.363,0.118L-0.951,-0.309L-0.225,-0.309Z", "size": 140, "filled": true, "color": "#000080", "opacity": 1}},
     {"transform": [{"filter": "datum.s=='HD-0.5'"}], "mark": {"type": "line", "color": "black"}},
     {"transform": [{"filter": "datum.s=='HD-0.5' && datum.e%5==0"}], "mark": {"type": "point", "shape": "M-1,-1L1,1M-1,1L1,-1", "size": 72, "filled": false, "strokeWidth": 1.5, "color": "black", "opacity": 1}},
     {"transform": [{"filter": "false"}], "mark": {"type": "point", "filled": true, "opacity": 1, "size": 196},
      "encoding": {
        "color": {"field": "s", "type": "nominal", "scale": {"domain": ["HD-0.1","HD-0.2","HD-0.3","HD-0.5"], "range": ["#87CEEB","#4169E1","#000080","black"]}, "legend": {"title": null, "orient": "bottom-right"}},
        "shape": {"field": "s", "type": "nominal", "scale": {"domain": ["HD-0.1","HD-0.2","HD-0.3","HD-0.5"], "range": ["M-1,-0.143L3.4,-0.143L3.4,0.143L-1,0.143ZM1.2,0.619L0.486,-0.619L1.914,-0.619Z", "M-1,-0.143L3.4,-0.143L3.4,0.143L-1,0.143ZM1.819,0L0.581,0.714L0.581,-0.714Z", "M-1,-0.143L3.4,-0.143L3.4,0.143L-1,0.143ZM1.2,-0.829L1.387,-0.256L1.988,-0.256L1.501,0.098L1.687,0.671L1.2,0.317L0.713,0.671L0.899,0.098L0.412,-0.256L1.013,-0.256Z", "M-1,-0.143L3.4,-0.143L3.4,0.143L-1,0.143ZM0.669,-0.681L1.881,0.531L1.731,0.681L0.519,-0.531ZM0.519,0.531L1.731,-0.681L1.881,-0.531L0.669,0.681Z"]}, "legend": {"title": null, "orient": "bottom-right"}}
      }}
   ]
  }]
 },
 {"title": {"text": "(d) Training Loss.", "orient": "bottom", "anchor": "middle", "font": "Liberation Serif", "fontSize": 22.5, "offset": 13.5, "dx": 27},
  "resolve": {"scale": {"color": "independent", "shape": "independent"}, "legend": {"color": "independent", "shape": "independent"}},
  "vconcat": [{
   "title": "Training Loss", "width": 338.4, "height": 252, "data": {"name": "d"},
   "encoding": {
     "x": {"field": "e", "type": "quantitative", "scale": {"domain": [-2.5, 52.5], "nice": false, "zero": false}, "axis": {"values": [0,10,20,30,40,50], "title": "Number of Epochs"}},
     "y": {"field": "v", "type": "quantitative", "scale": {"domain": [0.292, 1.667], "nice": false, "zero": false}, "axis": {"values": [0.4,0.6,0.8,1.0,1.2,1.4,1.6], "format": ".1f", "title": "Training Loss"}}
   },
   "layer": [
     {"transform": [{"filter": "datum.s=='HD-0.1'"}], "mark": {"type": "line", "color": "#87CEEB"}},
     {"transform": [{"filter": "datum.s=='HD-0.1' && datum.e%5==0"}], "mark": {"type": "point", "shape": "triangle-down", "size": 100, "filled": true, "color": "#87CEEB", "opacity": 1}},
     {"transform": [{"filter": "datum.s=='HD-0.2'"}], "mark": {"type": "line", "color": "#4169E1"}},
     {"transform": [{"filter": "datum.s=='HD-0.2' && datum.e%5==0"}], "mark": {"type": "point", "shape": "triangle-right", "size": 105, "filled": true, "color": "#4169E1", "opacity": 1}},
     {"transform": [{"filter": "datum.s=='HD-0.3'"}], "mark": {"type": "line", "color": "#000080"}},
     {"transform": [{"filter": "datum.s=='HD-0.3' && datum.e%5==0"}], "mark": {"type": "point", "shape": "M0,-1L0.225,-0.309L0.951,-0.309L0.363,0.118L0.588,0.809L0,0.382L-0.588,0.809L-0.363,0.118L-0.951,-0.309L-0.225,-0.309Z", "size": 140, "filled": true, "color": "#000080", "opacity": 1}},
     {"transform": [{"filter": "datum.s=='HD-0.5'"}], "mark": {"type": "line", "color": "black"}},
     {"transform": [{"filter": "datum.s=='HD-0.5' && datum.e%5==0"}], "mark": {"type": "point", "shape": "M-1,-1L1,1M-1,1L1,-1", "size": 72, "filled": false, "strokeWidth": 1.5, "color": "black", "opacity": 1}},
     {"transform": [{"filter": "false"}], "mark": {"type": "point", "filled": true, "opacity": 1, "size": 196},
      "encoding": {
        "color": {"field": "s", "type": "nominal", "scale": {"domain": ["HD-0.1","HD-0.2","HD-0.3","HD-0.5"], "range": ["#87CEEB","#4169E1","#000080","black"]}, "legend": {"title": null, "orient": "top-right"}},
        "shape": {"field": "s", "type": "nominal", "scale": {"domain": ["HD-0.1","HD-0.2","HD-0.3","HD-0.5"], "range": ["M-1,-0.143L3.4,-0.143L3.4,0.143L-1,0.143ZM1.2,0.619L0.486,-0.619L1.914,-0.619Z", "M-1,-0.143L3.4,-0.143L3.4,0.143L-1,0.143ZM1.819,0L0.581,0.714L0.581,-0.714Z", "M-1,-0.143L3.4,-0.143L3.4,0.143L-1,0.143ZM1.2,-0.829L1.387,-0.256L1.988,-0.256L1.501,0.098L1.687,0.671L1.2,0.317L0.713,0.671L0.899,0.098L0.412,-0.256L1.013,-0.256Z", "M-1,-0.143L3.4,-0.143L3.4,0.143L-1,0.143ZM0.669,-0.681L1.881,0.531L1.731,0.681L0.519,-0.531ZM0.519,0.531L1.731,-0.681L1.881,-0.531L0.669,0.681Z"]}, "legend": {"title": null, "orient": "top-right"}}
      }}
   ]
  }]
 }
], "spacing": 78}
],
"spacing": 44.5
}
